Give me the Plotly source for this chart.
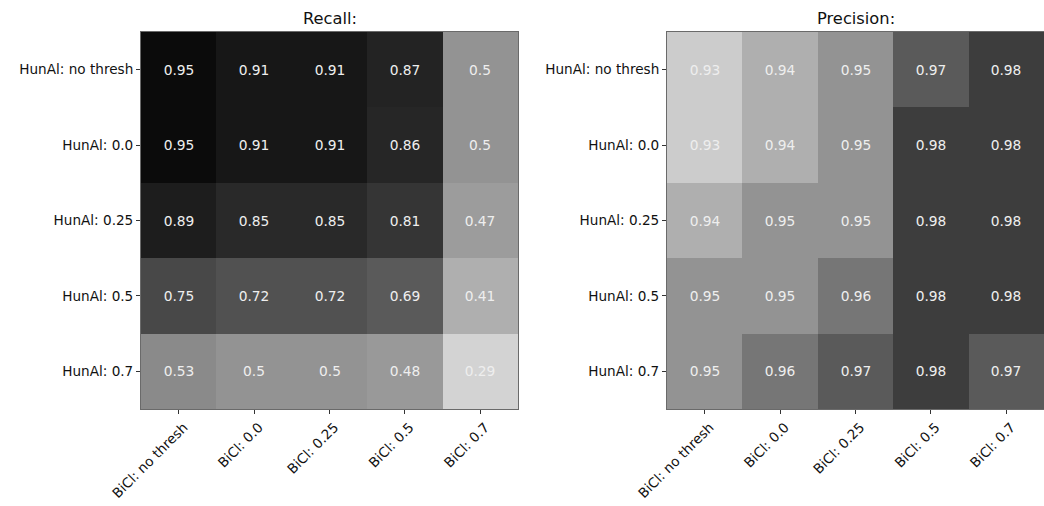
import plotly.graph_objects as go

# ---- data ----
bicl_labels = ["BiCl: no thresh", "BiCl: 0.0", "BiCl: 0.25", "BiCl: 0.5", "BiCl: 0.7"]
hunal_labels = ["HunAl: no thresh", "HunAl: 0.0", "HunAl: 0.25", "HunAl: 0.5", "HunAl: 0.7"]

recall = [
    [0.95, 0.91, 0.91, 0.87, 0.5],
    [0.95, 0.91, 0.91, 0.86, 0.5],
    [0.89, 0.85, 0.85, 0.81, 0.47],
    [0.75, 0.72, 0.72, 0.69, 0.41],
    [0.53, 0.5, 0.5, 0.48, 0.29],
]
precision = [
    [0.93, 0.94, 0.95, 0.97, 0.98],
    [0.93, 0.94, 0.95, 0.98, 0.98],
    [0.94, 0.95, 0.95, 0.98, 0.98],
    [0.95, 0.95, 0.96, 0.98, 0.98],
    [0.95, 0.96, 0.97, 0.98, 0.97],
]

W, H = 1044, 506
FONT = "DejaVu Sans"

def txt(m):
    return [[str(v) for v in row] for row in m]

fig = go.Figure()
fig.add_trace(go.Heatmap(
    z=recall, x=bicl_labels, y=hunal_labels, text=txt(recall),
    texttemplate="%{text}", textfont=dict(family=FONT, size=13.8, color="#eeeeee"),
    colorscale=[[0, "rgb(211,211,211)"], [1, "rgb(11,11,11)"]],
    zmin=min(min(r) for r in recall), zmax=max(max(r) for r in recall),
    showscale=False, xaxis="x", yaxis="y", hoverinfo="skip"))
fig.add_trace(go.Heatmap(
    z=precision, x=bicl_labels, y=hunal_labels, text=txt(precision),
    texttemplate="%{text}", textfont=dict(family=FONT, size=13.8, color="#eeeeee"),
    colorscale=[[0, "rgb(204,204,204)"], [1, "rgb(61,61,61)"]],
    zmin=min(min(r) for r in precision), zmax=max(max(r) for r in precision),
    showscale=False, xaxis="x2", yaxis="y2", hoverinfo="skip"))

ytop = 1 - 32 / H
ybot = 1 - 409 / H
axcommon = dict(showline=True, mirror=True, linecolor="#6a6a6a", linewidth=1,
                ticks="outside", ticklen=4, tickcolor="#333", tickwidth=1,
                showgrid=False, zeroline=False, automargin=False,
                tickfont=dict(family=FONT, size=13.6, color="#111"))

fig.update_layout(
    width=W, height=H, margin=dict(l=0, r=0, t=0, b=0, pad=0), autosize=False,
    paper_bgcolor="white", plot_bgcolor="white",
    xaxis=dict(domain=[141 / W, 518 / W], anchor="y", tickangle=-45,
               ticklabelshift=5, **axcommon),
    yaxis=dict(domain=[ybot, ytop], anchor="x", autorange="reversed", **axcommon),
    xaxis2=dict(domain=[667 / W, 1.0], anchor="y2", tickangle=-45,
                ticklabelshift=5, **axcommon),
    yaxis2=dict(domain=[ybot, ytop], anchor="x2", autorange="reversed", **axcommon),
    annotations=[
        dict(text="Recall:", x=(141 + 518) / 2 / W, y=ytop, xref="paper", yref="paper",
             xanchor="center", yanchor="bottom", yshift=2, showarrow=False,
             font=dict(family=FONT, size=16.3, color="#111")),
        dict(text="Precision:", x=(667 + 1044) / 2 / W, y=ytop, xref="paper", yref="paper",
             xanchor="center", yanchor="bottom", yshift=2, showarrow=False,
             font=dict(family=FONT, size=16.3, color="#111")),
    ],
)

fig.write_html("out.html", config={"displayModeBar": False},
               post_script="document.body.style.margin='0';document.body.style.overflow='hidden';")
